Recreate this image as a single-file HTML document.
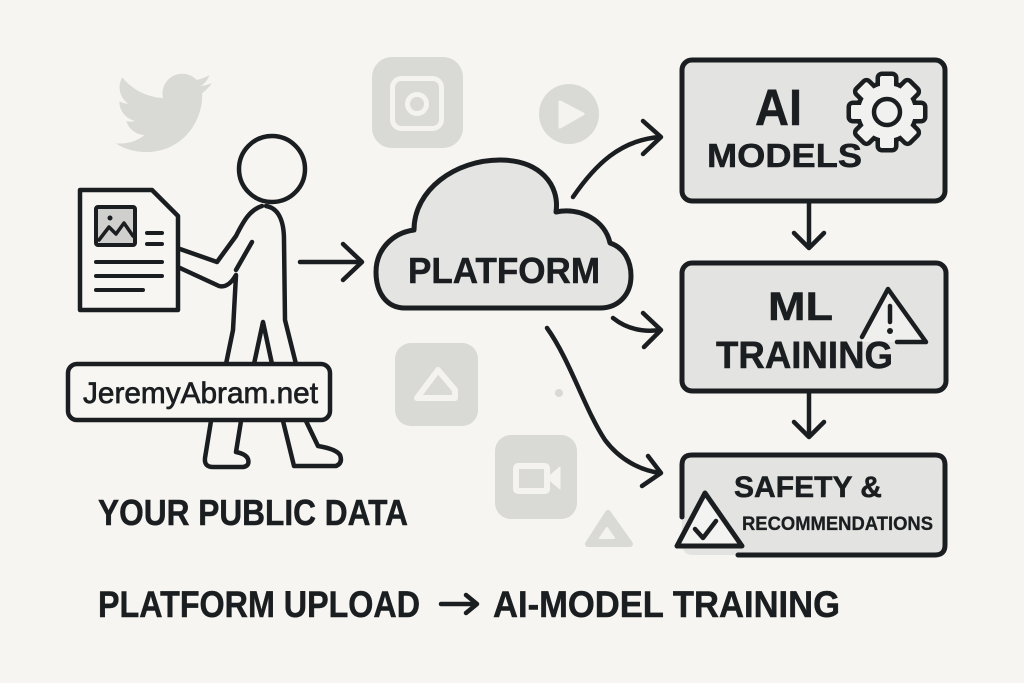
<!DOCTYPE html>
<html><head><meta charset="utf-8"><style>
html,body{margin:0;padding:0;background:#f6f5f2;}
svg{display:block;}
text{font-family:"Liberation Sans","DejaVu Sans",sans-serif;font-weight:bold;fill:#1b1e20;stroke:#1b1e20;stroke-width:0.5;}
</style></head><body>
<svg width="1024" height="683" viewBox="0 0 1024 683" xmlns="http://www.w3.org/2000/svg">
<rect width="1024" height="683" fill="#f6f5f2"/>

<!-- background icons -->
<g fill="#d9d9d6">
  <path transform="translate(111.5,62) scale(4.25)" d="M23.643 4.937c-.835.37-1.732.62-2.675.733.962-.576 1.7-1.49 2.048-2.578-.9.534-1.897.922-2.958 1.13-.85-.904-2.06-1.47-3.4-1.47-2.572 0-4.658 2.086-4.658 4.66 0 .364.042.718.12 1.06-3.873-.195-7.304-2.05-9.602-4.868-.4.69-.63 1.490-.63 2.342 0 1.616.823 3.043 2.072 3.878-.764-.025-1.482-.234-2.11-.583v.06c0 2.257 1.605 4.14 3.737 4.568-.392.106-.803.162-1.227.162-.3 0-.593-.028-.877-.082.593 1.85 2.313 3.198 4.352 3.234-1.595 1.25-3.604 1.995-5.786 1.995-.376 0-.747-.022-1.112-.065 2.062 1.323 4.51 2.093 7.14 2.093 8.57 0 13.255-7.098 13.255-13.254 0-.2-.005-.402-.014-.602.91-.658 1.7-1.477 2.323-2.41z"/>
  <rect x="372" y="57" width="91" height="91" rx="20"/>
  <circle cx="569" cy="114" r="30"/>
  <rect x="395" y="343" width="83" height="83" rx="16"/>
  <circle cx="559" cy="393" r="4"/>
  <rect x="495" y="435" width="82" height="84" rx="16"/>
  <polygon points="608,513 588,544 630,544" stroke="#d9d9d6" stroke-width="6" stroke-linejoin="round"/>
</g>
<g fill="none" stroke="#f4f3f0" stroke-width="5" stroke-linejoin="round">
  <rect x="392.5" y="78.5" width="49" height="50" rx="9"/>
  <circle cx="417" cy="104" r="9.5"/>
  <polygon points="438,370 417,398 455,398 455,390" stroke-width="6"/>
  <rect x="516" y="466" width="31" height="25" rx="2" stroke-width="6"/>
</g>
<g fill="#f4f3f0" stroke="#f4f3f0" stroke-linejoin="round">
  <path d="M560,102 L583,114 L560,127 Z" stroke-width="3"/>
  <polygon points="547,478 560,467 560,489"/>
  <polygon points="607,528 600,538 614,538" stroke-width="2"/>
</g>

<!-- document -->
<g stroke="#1b1e20" stroke-width="4.5" stroke-linejoin="round" stroke-linecap="round" fill="none">
  <path d="M80,190 L152,190 L178,216 L178,310 L80,310 Z" fill="#f7f6f3"/>
  <rect x="96" y="207" width="39" height="38" rx="2" fill="#cfcfcd" stroke-width="4"/>
  <polyline points="99,240 109,227 116,234 124,223 133,236" stroke-width="3.5"/>
  <line x1="147" y1="233" x2="162" y2="233" stroke-width="4"/>
  <line x1="147" y1="244" x2="162" y2="244" stroke-width="4"/>
  <line x1="96" y1="262" x2="162" y2="262" stroke-width="4"/>
  <line x1="96" y1="276" x2="162" y2="276" stroke-width="4"/>
  <line x1="96" y1="290" x2="143" y2="290" stroke-width="4"/>
</g>
<circle cx="110" cy="218" r="2.5" fill="#1b1e20"/>

<!-- person -->
<g stroke="#1b1e20" stroke-width="4.5" stroke-linejoin="round" stroke-linecap="round" fill="none">
  <circle cx="272" cy="169" r="33" fill="#f6f5f2"/>
  <path d="M262,206 C250,210 244,220 236,236 L217,262 L180,249"/>
  <path d="M180,268 L219,286 C226,288 232,282 236,275 L233,330 L226,364"/>
  <path d="M252,242 L236,270"/>
  <path d="M266,206 C278,208 284,220 284,240 L285,320 L296,364"/>
  <path d="M254,364 L263,322 L272,364"/>
  <path d="M211,421 L205,458 Q204,467 213,467 L243,467 Q250,466 248,459 Q246,454 236,452 L241,421"/>
  <path d="M283,421 L294,466 L336,466 Q343,463 340,455 Q336,449 318,446 L306,421"/>
  <rect x="68" y="364" width="262" height="56" rx="9" fill="#f7f6f3"/>
</g>
<text x="83" y="403" font-size="30" textLength="235" lengthAdjust="spacingAndGlyphs" style="font-weight:normal;stroke-width:0.7">JeremyAbram.net</text>

<!-- arrow to cloud -->
<g stroke="#1b1e20" stroke-width="4.5" stroke-linejoin="round" stroke-linecap="round" fill="none">
  <line x1="300" y1="262" x2="361" y2="262"/>
  <polyline points="343,244 362,262 343,280"/>
</g>

<!-- cloud -->
<path d="M405,308 C386,308 376,292 376,272 C376,250 392,233 414,230 C414,190 455,160 500,160 C540,160 560,185 556,212 C580,207 605,220 610,243 C625,248 631,262 631,276 C631,295 618,308 600,308 Z" fill="#e4e4e2" stroke="#1b1e20" stroke-width="5" stroke-linejoin="round"/>
<text x="408" y="283" font-size="36" textLength="192" lengthAdjust="spacingAndGlyphs">PLATFORM</text>

<!-- curved arrows -->
<g stroke="#1b1e20" stroke-width="4.5" stroke-linejoin="round" stroke-linecap="round" fill="none">
  <path d="M573,197 C595,165 620,140 660,137"/>
  <polyline points="643,121 661,137 643,154"/>
  <path d="M613,318 C628,330 645,332 660,330"/>
  <polyline points="643,313 661,330 644,347"/>
  <path d="M547,328 C570,360 585,410 605,440 C620,460 640,470 660,473"/>
  <polyline points="648,456 661,473 642,486"/>
</g>

<!-- AI models box -->
<rect x="682" y="60" width="263" height="141" rx="10" fill="#e3e3e1" stroke="#1b1e20" stroke-width="5"/>
<g transform="translate(887,112)">
  <g stroke="#1b1e20" stroke-width="9" stroke-linejoin="round" fill="#1b1e20">
    <circle r="27"/>
    <rect x="-7" y="-36" width="14" height="14" rx="2"/>
    <rect x="-7" y="-36" width="14" height="14" rx="2" transform="rotate(45)"/>
    <rect x="-7" y="-36" width="14" height="14" rx="2" transform="rotate(90)"/>
    <rect x="-7" y="-36" width="14" height="14" rx="2" transform="rotate(135)"/>
    <rect x="-7" y="-36" width="14" height="14" rx="2" transform="rotate(180)"/>
    <rect x="-7" y="-36" width="14" height="14" rx="2" transform="rotate(225)"/>
    <rect x="-7" y="-36" width="14" height="14" rx="2" transform="rotate(270)"/>
    <rect x="-7" y="-36" width="14" height="14" rx="2" transform="rotate(315)"/>
  </g>
  <g fill="#f1f1ef">
    <circle r="27"/>
    <rect x="-7" y="-36" width="14" height="14" rx="2"/>
    <rect x="-7" y="-36" width="14" height="14" rx="2" transform="rotate(45)"/>
    <rect x="-7" y="-36" width="14" height="14" rx="2" transform="rotate(90)"/>
    <rect x="-7" y="-36" width="14" height="14" rx="2" transform="rotate(135)"/>
    <rect x="-7" y="-36" width="14" height="14" rx="2" transform="rotate(180)"/>
    <rect x="-7" y="-36" width="14" height="14" rx="2" transform="rotate(225)"/>
    <rect x="-7" y="-36" width="14" height="14" rx="2" transform="rotate(270)"/>
    <rect x="-7" y="-36" width="14" height="14" rx="2" transform="rotate(315)"/>
  </g>
  <circle r="13" fill="#f1f1ef" stroke="#1b1e20" stroke-width="4.5"/>
</g>
<text x="755" y="125" font-size="51" textLength="47" lengthAdjust="spacingAndGlyphs">AI</text>
<text x="707" y="167" font-size="33" textLength="155" lengthAdjust="spacingAndGlyphs">MODELS</text>

<!-- down arrows -->
<g stroke="#1b1e20" stroke-width="4.5" stroke-linejoin="round" stroke-linecap="round" fill="none">
  <line x1="809" y1="203" x2="809" y2="247"/>
  <polyline points="794,233 809,248 824,233"/>
  <line x1="809" y1="393" x2="809" y2="436"/>
  <polyline points="794,422 809,437 824,422"/>
</g>

<!-- ML training box -->
<rect x="682" y="263" width="264" height="128" rx="10" fill="#e3e3e1" stroke="#1b1e20" stroke-width="5"/>
<polygon points="862,337 888,289 926,342 862,342" fill="#efefed"/>
<polyline points="862,337 888,289 926,342 897,342" fill="none" stroke="#1b1e20" stroke-width="4.5" stroke-linejoin="round" stroke-linecap="round"/>
<line x1="890" y1="306" x2="890" y2="322" stroke="#1b1e20" stroke-width="4.5" stroke-linecap="round"/>
<circle cx="890" cy="331" r="3" fill="#1b1e20"/>
<text x="768" y="320" font-size="40" textLength="65" lengthAdjust="spacingAndGlyphs">ML</text>
<text x="716" y="368" font-size="38" textLength="177" lengthAdjust="spacingAndGlyphs">TRAINING</text>

<!-- safety box -->
<rect x="682" y="455" width="263" height="100" rx="10" fill="#e3e3e1"/>
<path d="M682,517 L682,465 Q682,455 692,455 L935,455 Q945,455 945,465 L945,545 Q945,555 935,555 L738,555" fill="none" stroke="#1b1e20" stroke-width="5" stroke-linejoin="round" stroke-linecap="round"/>
<polygon points="705,493 677,546 742,546" fill="#f3f3f1" stroke="#1b1e20" stroke-width="5" stroke-linejoin="round"/>
<polyline points="695,529 703,538 716,521" fill="none" stroke="#1b1e20" stroke-width="4.5" stroke-linejoin="round" stroke-linecap="round"/>
<text x="734" y="497" font-size="30" textLength="148" lengthAdjust="spacingAndGlyphs">SAFETY &amp;</text>
<text x="742" y="530" font-size="19" textLength="191" lengthAdjust="spacingAndGlyphs" style="stroke-width:0.3">RECOMMENDATIONS</text>

<!-- captions -->
<text x="98" y="525" font-size="36" textLength="310" lengthAdjust="spacingAndGlyphs">YOUR PUBLIC DATA</text>
<text x="98" y="617" font-size="37" textLength="322" lengthAdjust="spacingAndGlyphs">PLATFORM UPLOAD</text>
<g stroke="#1b1e20" stroke-width="4.5" stroke-linejoin="round" stroke-linecap="round" fill="none">
  <line x1="441" y1="604" x2="476" y2="604"/>
  <polyline points="466,595 477,604 466,613"/>
</g>
<text x="493" y="617" font-size="37" textLength="347" lengthAdjust="spacingAndGlyphs">AI-MODEL TRAINING</text>
</svg>
</body></html>
